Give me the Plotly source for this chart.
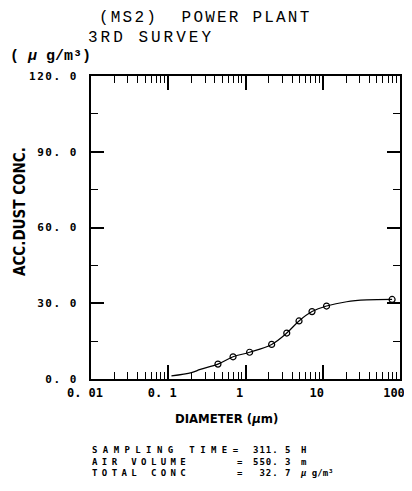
import plotly.graph_objects as go

# ---- data ----
diameter = [0.44, 0.69, 1.13, 2.18, 3.42, 4.93, 7.26, 11.2, 79]
acc_conc = [5.9, 8.8, 10.6, 13.7, 18.2, 23.0, 26.7, 28.9, 31.5]

curve_diameter = [0.11, 0.2, 0.26, 0.44, 0.69, 1.13, 2.18, 3.42, 4.93, 7.26, 11.2, 20.4, 37, 79]
curve_conc = [1.2, 2.5, 3.8, 5.9, 8.8, 10.6, 13.7, 18.2, 23.0, 26.7, 28.9, 30.6, 31.3, 31.5]

x_tickvals = [0.01, 0.1, 1, 10, 100]
x_ticktext = ["0. 01", "0. 1", "1", "10", "100"]
y_tickvals = [0, 30, 60, 90, 120]
y_ticktext = ["0. 0", "30. 0", "60. 0", "90. 0", "120. 0"]
x_minor_ticks = [m * 10.0 ** e for e in range(-2, 2) for m in range(2, 10)]
y_minor_ticks = [15, 45, 75, 105]

title_lines = ["(MS2)  POWER PLANT", "3RD SURVEY"]
info_labels = ["SAMPLING TIME=", "AIR VOLUME", "TOTAL CONC"]
info_eq = ["\u00a0", "=", "="]
info_values = ["311. 5", "550. 3", "32. 7"]
info_units = ["H", "m", "<i>μ</i> g/m³"]

# ---- layout geometry ----
# The page body keeps its default 8px margin, so the figure is drawn 8px
# smaller and positions below are given in page pixels.
PAGE_OFF = 8
W, H = 412 - PAGE_OFF, 491 - PAGE_OFF
L, R, T, B = 91, 400, 76, 379          # plot box in page pixels


def fx(px):
    return (px - L) / (R - L)


def fy(py):
    return (B - py) / (B - T)


def spaced(txt, ls):
    return f'<span style="letter-spacing:{ls}px">{txt}</span>'


MONO = "DejaVu Sans Mono"
TYPE = "Liberation Mono"
COND = "DejaVu Sans Condensed, DejaVu Sans"

fig = go.Figure()
fig.add_trace(go.Scatter(
    x=curve_diameter, y=curve_conc, mode="lines", xaxis="x2", yaxis="y2",
    line=dict(color="black", width=1.2, shape="spline", smoothing=1.0),
    hoverinfo="skip"))
fig.add_trace(go.Scatter(
    x=diameter, y=acc_conc, mode="markers",
    marker=dict(symbol="circle-open", size=6, color="black", line=dict(width=1.2))))

common = dict(showline=True, linecolor="black", linewidth=2, mirror="ticks",
              showgrid=False, zeroline=False, automargin=False,
              ticks="inside", tickcolor="black")

fig.update_layout(
    xaxis=dict(
        type="log", range=[-2, 2],
        tickmode="array", tickvals=x_tickvals, ticktext=x_ticktext,
        ticklen=14, tickwidth=2,
        tickfont=dict(family=MONO, size=12, color="black", weight="bold"),
        ticklabelshift=-6, ticklabelstandoff=2, ticklabeloverflow="allow",
        **common),
    xaxis2=dict(
        type="log", range=[-2, 2], overlaying="x", side="bottom",
        tickmode="array", tickvals=sorted(x_minor_ticks + x_tickvals), showticklabels=False,
        ticklen=7, tickwidth=1.4,
        **common),
    yaxis=dict(
        range=[0, 120],
        tickmode="array", tickvals=y_tickvals,
        ticktext=[spaced(t, 1.5) for t in y_ticktext],
        ticklen=13, tickwidth=2,
        tickfont=dict(family=MONO, size=11, color="black", weight="bold"),
        ticklabelstandoff=9, ticklabeloverflow="allow",
        **common),
    yaxis2=dict(
        range=[0, 120], overlaying="y", side="left",
        tickmode="array", tickvals=sorted(y_minor_ticks + y_tickvals), showticklabels=False,
        ticklen=7, tickwidth=1.4,
        **common),
)

ann = []
# title
ann.append(dict(x=fx(97), y=fy(18.5), text=spaced(title_lines[0], 2.2),
                xanchor="left", yanchor="middle",
                font=dict(family=TYPE, size=16, color="black")))
ann.append(dict(x=fx(86), y=fy(38.5), text=spaced(title_lines[1], 3),
                xanchor="left", yanchor="middle",
                font=dict(family=TYPE, size=16, color="black")))
# unit label
ann.append(dict(x=fx(8), y=fy(56), text="( <i>μ</i> g/m³)",
                xanchor="left", yanchor="middle",
                font=dict(family=TYPE, size=15, color="black", weight="bold")))
# axis titles
ann.append(dict(x=fx(226), y=fy(418), text="DIAMETER (<i>μ</i>m)",
                xanchor="center", yanchor="middle",
                font=dict(family=COND, size=13, color="black", weight="bold")))
ann.append(dict(x=fx(20), y=fy(212), text="ACC.DUST CONC.", textangle=-90,
                xanchor="center", yanchor="middle",
                font=dict(family=COND, size=15, color="black", weight="bold")))

# info block: one multi-line annotation per column
INFO_Y = 461
info_font = dict(family=MONO, size=9, color="black", weight="bold")
ann.append(dict(x=fx(90), y=fy(INFO_Y),
                text="<br>".join(spaced(t, 5.4 if i == 0 else 4.4) for i, t in enumerate(info_labels)),
                xanchor="left", yanchor="middle", align="left", font=info_font))
ann.append(dict(x=fx(240), y=fy(INFO_Y), text="<br>".join(info_eq),
                xanchor="center", yanchor="middle", align="center", font=info_font))
ann.append(dict(x=fx(294), y=fy(INFO_Y),
                text="<br>".join(spaced(t, 1.0) for t in info_values),
                xanchor="right", yanchor="middle", align="right", font=info_font))
ann.append(dict(x=fx(298), y=fy(INFO_Y), text="<br>".join(info_units),
                xanchor="left", yanchor="middle", align="left", font=info_font))

for a in ann:
    a.update(xref="paper", yref="paper", showarrow=False)

fig.update_layout(
    width=W, height=H,
    margin=dict(l=L - PAGE_OFF, r=W - (R - PAGE_OFF), t=T - PAGE_OFF, b=H - (B - PAGE_OFF)),
    plot_bgcolor="white", paper_bgcolor="white",
    showlegend=False, annotations=ann, hovermode=False,
)

fig.write_html("out.html", config={"displayModeBar": False})
